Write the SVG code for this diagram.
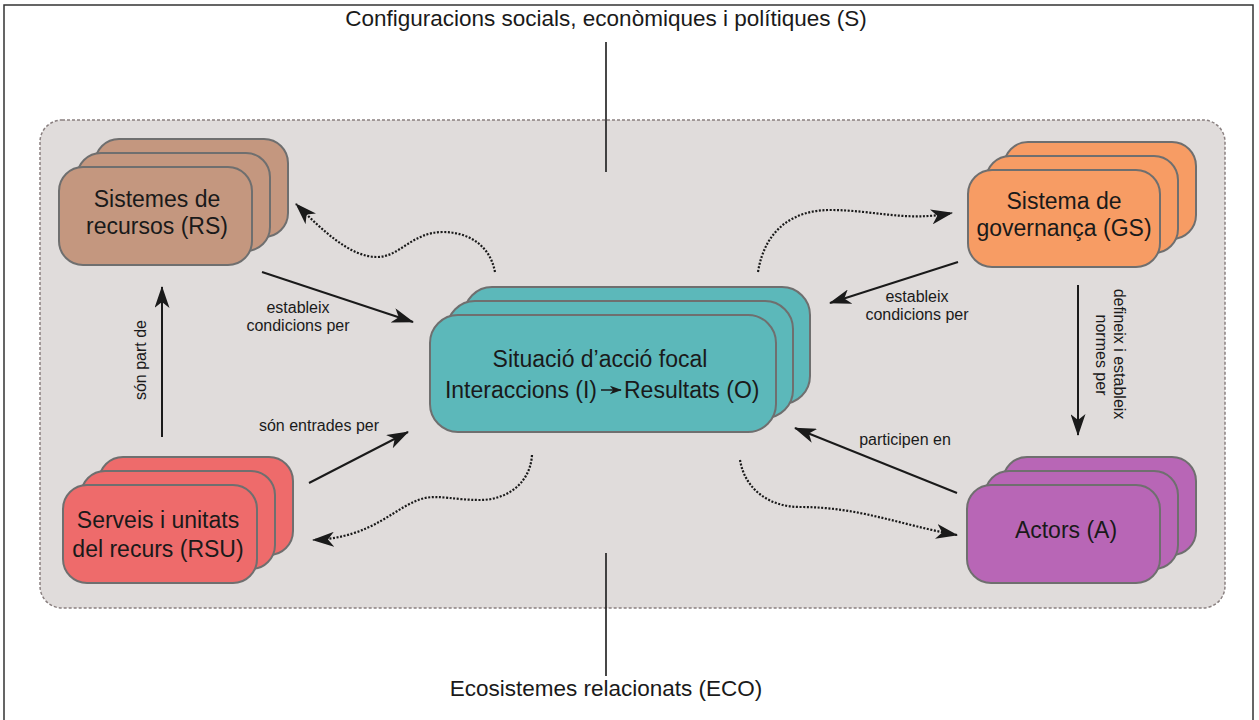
<svg xmlns="http://www.w3.org/2000/svg" width="1259" height="720" viewBox="0 0 1259 720">
<style>
  .t { font-family: "Liberation Sans", Arial, sans-serif; fill: #1a1a1a; }
  .big { font-size: 22.5px; }
  .node { font-size: 23px; text-anchor: middle; }
  .lbl { font-size: 16px; text-anchor: middle; }
  .box { stroke: #6f6f6f; stroke-width: 2; }
  .rs { fill: #c4977f; }
  .gs { fill: #f79c64; }
  .rsu { fill: #ee6b6b; }
  .ac { fill: #b866b6; }
  .ce { fill: #5cb8ba; }
  .solid { fill: none; stroke: #1a1a1a; stroke-width: 2; marker-end: url(#ah); }
  .dot { fill: none; stroke: #1a1a1a; stroke-width: 2.2; stroke-dasharray: 2 1.6; marker-end: url(#ah); }
</style>
<defs>
  <marker id="ah" viewBox="0 0 22 15" refX="21" refY="7.5" markerWidth="22" markerHeight="15" markerUnits="userSpaceOnUse" orient="auto">
    <path d="M0,0 L22,7.5 L0,15 L6,7.5 Z" fill="#1a1a1a"/>
  </marker>
  <marker id="ahs" viewBox="0 0 14 10" refX="13" refY="5" markerWidth="12" markerHeight="9" markerUnits="userSpaceOnUse" orient="auto">
    <path d="M0,0 L14,5 L0,10 L4,5 Z" fill="#1a1a1a"/>
  </marker>
</defs>
<rect x="0" y="0" width="1259" height="720" fill="#ffffff"/>
<rect x="4" y="5" width="1249" height="730" fill="none" stroke="#333333" stroke-width="1.5"/>
<rect id="context" x="40" y="120" width="1185" height="488" rx="22" fill="#e0dcdb" stroke="#8a8080" stroke-width="1.5" stroke-dasharray="3 2"/>

<g id="top-label">
  <text class="t big" x="606" y="26" text-anchor="middle">Configuracions socials, econòmiques i polítiques (S)</text>
</g>
<g id="bottom-label">
  <text class="t big" x="606" y="696" text-anchor="middle">Ecosistemes relacionats (ECO)</text>
</g>

<g id="connectors">
  <line x1="606" y1="42" x2="606" y2="172" stroke="#1a1a1a" stroke-width="1.6"/>
  <line x1="606" y1="553" x2="606" y2="676" stroke="#1a1a1a" stroke-width="1.6"/>
  <!-- solid arrows -->
  <line class="solid" x1="262" y1="272" x2="413" y2="322"/>
  <line class="solid" x1="309" y1="483" x2="408" y2="432"/>
  <line class="solid" x1="162" y1="437" x2="162" y2="287"/>
  <line class="solid" x1="958" y1="262" x2="830" y2="303"/>
  <line class="solid" x1="1078" y1="285" x2="1078" y2="435"/>
  <line class="solid" x1="957" y1="493" x2="795" y2="428"/>
  <!-- dotted curves -->
  <path class="dot" d="M495,272 C490,245 468,232 443,232 C412,232 400,257 377,257 C350,257 322,230 296,204"/>
  <path class="dot" d="M758,272 C765,228 795,210 830,210 C875,210 905,222 952,213"/>
  <path class="dot" d="M532,455 C530,485 505,500 480,500 C455,500 440,495 425,498 C395,505 375,538 313,540"/>
  <path class="dot" d="M740,460 C745,490 770,507 800,507 C860,507 900,525 957,535"/>
  <!-- labels -->
  <text class="t lbl" x="298" y="313">estableix</text>
  <text class="t lbl" x="298" y="331">condicions per</text>
  <text class="t lbl" x="319" y="431">són entrades per</text>
  <text class="t lbl" transform="translate(146,360) rotate(-90)">són part de</text>
  <text class="t lbl" x="917" y="302">estableix</text>
  <text class="t lbl" x="917" y="320">condicions per</text>
  <text class="t lbl" transform="translate(1114,354) rotate(90)">defineix i estableix</text>
  <text class="t lbl" transform="translate(1096,355) rotate(90)">normes per</text>
  <text class="t lbl" x="905" y="445">participen en</text>
</g>

<g id="node-rs">
  <rect class="box rs" x="95" y="139" width="193" height="98" rx="24"/>
  <rect class="box rs" x="77" y="153" width="193" height="98" rx="24"/>
  <rect class="box rs" x="59" y="167" width="193" height="98" rx="24"/>
  <text class="t node" x="157" y="207">Sistemes de</text>
  <text class="t node" x="157" y="234">recursos (RS)</text>
</g>

<g id="node-gs">
  <rect class="box gs" x="1004" y="142" width="192" height="97" rx="24"/>
  <rect class="box gs" x="986" y="156" width="192" height="97" rx="24"/>
  <rect class="box gs" x="968" y="170" width="192" height="97" rx="24"/>
  <text class="t node" x="1064" y="209">Sistema de</text>
  <text class="t node" x="1064" y="236">governança (GS)</text>
</g>

<g id="node-rsu">
  <rect class="box rsu" x="99" y="457" width="194" height="98" rx="24"/>
  <rect class="box rsu" x="81" y="471" width="194" height="98" rx="24"/>
  <rect class="box rsu" x="63" y="485" width="194" height="98" rx="24"/>
  <text class="t node" x="158" y="528">Serveis i unitats</text>
  <text class="t node" x="158" y="557">del recurs (RSU)</text>
</g>

<g id="node-actors">
  <rect class="box ac" x="1003" y="457" width="193" height="98" rx="24"/>
  <rect class="box ac" x="985" y="471" width="193" height="98" rx="24"/>
  <rect class="box ac" x="967" y="485" width="193" height="98" rx="24"/>
  <text class="t node" x="1066" y="538">Actors (A)</text>
</g>

<g id="node-focal">
  <rect class="box ce" x="464" y="287" width="346" height="117" rx="28"/>
  <rect class="box ce" x="447" y="301" width="346" height="117" rx="28"/>
  <rect class="box ce" x="430" y="315" width="346" height="117" rx="28"/>
  <text class="t node" x="600" y="367">Situació d’acció focal</text>
  <text class="t" font-size="23" x="597" y="398" text-anchor="end">Interaccions (I)</text>
  <line x1="601" y1="390" x2="621" y2="390" stroke="#1a1a1a" stroke-width="1.5" marker-end="url(#ahs)"/>
  <text class="t" font-size="23" x="624" y="398">Resultats (O)</text>
</g>
</svg>
